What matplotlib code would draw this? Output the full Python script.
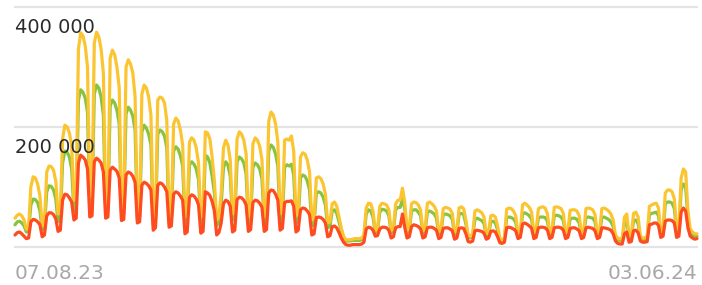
import matplotlib
matplotlib.use("Agg")
import matplotlib.pyplot as plt
import pandas as pd

# daily values, thousands, Mon 07.08.23 .. Mon 03.06.24 (one row per week)
yellow_k = [
    48, 53, 55, 52, 45, 30, 32,
    100, 117, 115, 105, 85, 35, 40,
    125, 135, 134, 128, 110, 55, 58,
    180, 203, 200, 190, 170, 78, 85,
    330, 357, 352, 335, 300, 83, 90,
    340, 358, 350, 330, 290, 70, 75,
    315, 328, 320, 300, 265, 62, 68,
    300, 312, 305, 290, 250, 57, 62,
    255, 270, 265, 250, 220, 45, 50,
    245, 250, 248, 240, 210, 48, 52,
    205, 215, 210, 195, 170, 50, 55,
    175, 182, 178, 165, 140, 50, 55,
    192, 190, 180, 150, 110, 45, 50,
    90, 165, 178, 170, 145, 55, 60,
    180, 192, 188, 178, 155, 50, 55,
    172, 182, 178, 168, 145, 50, 55,
    210, 225, 220, 205, 175, 55, 58,
    178, 180, 178, 185, 160, 52, 56,
    150, 157, 155, 145, 125, 45, 50,
    115, 117, 114, 105, 88, 40, 42,
    72, 75, 68, 50, 32, 18, 12,
    12, 12, 13, 14, 14, 14, 15,
    20, 65, 73, 72, 60, 28, 30,
    68, 73, 72, 70, 62, 28, 30,
    72, 78, 78, 98, 75, 28, 30,
    72, 75, 74, 70, 62, 27, 30,
    73, 75, 72, 68, 60, 26, 28,
    64, 66, 65, 63, 56, 25, 27,
    65, 67, 64, 45, 20, 18, 22,
    60, 62, 60, 57, 50, 22, 25,
    52, 53, 50, 35, 14, 12, 15,
    63, 65, 64, 60, 52, 22, 25,
    70, 73, 70, 66, 58, 24, 27,
    64, 66, 67, 65, 55, 24, 26,
    66, 67, 66, 64, 56, 24, 26,
    61, 62, 62, 60, 52, 23, 25,
    64, 65, 64, 62, 54, 23, 25,
    64, 65, 63, 60, 55, 45, 20,
    15, 14, 13, 50, 55, 18, 20,
    56, 58, 50, 18, 15, 15, 18,
    68, 70, 72, 73, 65, 25, 28,
    90, 95, 95, 92, 80, 30, 32,
    115, 130, 125, 60, 30, 25, 22,
    22,
]

green_k = [
    37, 42, 43, 40, 35, 25, 27,
    70, 80, 79, 74, 60, 28, 32,
    92, 102, 101, 95, 80, 42, 45,
    140, 160, 158, 150, 130, 60, 65,
    245, 262, 258, 248, 225, 65, 70,
    255, 270, 265, 250, 220, 55, 60,
    235, 245, 240, 228, 205, 50, 55,
    222, 233, 228, 218, 195, 46, 50,
    192, 203, 198, 188, 170, 38, 42,
    188, 195, 192, 185, 165, 40, 44,
    160, 167, 163, 152, 135, 40, 44,
    137, 142, 138, 130, 112, 40, 44,
    153, 150, 140, 118, 90, 36, 40,
    70, 132, 142, 136, 118, 45, 48,
    142, 150, 147, 140, 122, 40, 44,
    133, 140, 137, 130, 113, 40, 44,
    160, 170, 166, 155, 135, 42, 46,
    133, 137, 135, 138, 120, 40, 44,
    115, 120, 118, 110, 95, 35, 38,
    90, 92, 90, 83, 70, 32, 34,
    60, 62, 56, 42, 27, 14, 10,
    10, 10, 11, 11, 11, 11, 12,
    16, 55, 62, 60, 50, 24, 26,
    58, 63, 62, 60, 52, 24, 26,
    62, 66, 66, 80, 64, 24, 26,
    60, 62, 62, 58, 52, 23, 25,
    58, 60, 58, 55, 48, 22, 24,
    54, 55, 54, 52, 46, 21, 23,
    55, 56, 54, 38, 16, 15, 18,
    46, 48, 46, 44, 39, 18, 20,
    42, 43, 40, 28, 11, 10, 12,
    49, 50, 49, 47, 41, 18, 20,
    55, 57, 55, 52, 46, 20, 22,
    49, 50, 50, 49, 43, 20, 22,
    52, 53, 52, 50, 44, 20, 22,
    47, 48, 48, 46, 40, 19, 21,
    49, 50, 49, 48, 42, 19, 21,
    49, 50, 48, 46, 42, 34, 16,
    12, 11, 10, 40, 44, 15, 16,
    44, 45, 39, 14, 12, 12, 14,
    54, 56, 57, 58, 52, 20, 22,
    72, 75, 75, 73, 64, 24, 26,
    95, 105, 100, 48, 25, 20, 18,
    18,
]

red_k = [
    20, 24, 25, 22, 18, 14, 15,
    42, 46, 45, 42, 37, 17, 20,
    52, 57, 57, 54, 47, 26, 28,
    78, 88, 87, 82, 75, 45, 48,
    140, 153, 150, 145, 130, 50, 52,
    142, 148, 145, 140, 125, 48, 50,
    128, 133, 130, 126, 115, 44, 46,
    120, 125, 123, 118, 108, 40, 42,
    103, 108, 106, 102, 95, 28, 32,
    103, 107, 105, 100, 92, 33, 35,
    88, 92, 90, 85, 78, 22, 25,
    83, 87, 85, 80, 70, 23, 26,
    92, 90, 86, 76, 60, 20, 24,
    40, 72, 78, 76, 68, 25, 28,
    79, 83, 82, 78, 70, 26, 29,
    74, 78, 77, 73, 66, 26, 29,
    90, 95, 94, 88, 78, 28, 31,
    74, 76, 76, 77, 68, 25, 28,
    62, 65, 64, 60, 54, 20, 22,
    49, 50, 49, 46, 40, 17, 19,
    34, 35, 32, 24, 15, 8, 4,
    3, 3, 4, 4, 4, 4, 5,
    8, 30, 33, 32, 28, 18, 19,
    30, 33, 33, 32, 28, 15, 17,
    32, 34, 34, 55, 33, 15, 17,
    34, 37, 36, 34, 30, 15, 17,
    32, 33, 33, 31, 28, 14, 16,
    31, 32, 32, 30, 27, 13, 15,
    31, 32, 31, 22, 9, 8, 10,
    27, 28, 27, 26, 23, 13, 15,
    26, 27, 25, 17, 7, 6, 8,
    32, 33, 32, 30, 27, 14, 16,
    38, 40, 38, 35, 31, 14, 16,
    32, 33, 33, 32, 28, 14, 16,
    32, 33, 33, 32, 28, 14, 16,
    31, 32, 32, 30, 27, 14, 16,
    32, 33, 32, 31, 27, 14, 16,
    32, 32, 31, 30, 28, 22, 10,
    6, 5, 5, 22, 25, 8, 9,
    27, 28, 24, 10, 8, 8, 9,
    37, 38, 40, 40, 36, 16, 18,
    43, 45, 45, 44, 40, 16, 18,
    58, 65, 60, 32, 18, 15, 13,
    14,
]

y_ticks = [0, 200000, 400000]
y_tick_labels = ["", "200 000", "400 000"]
x_labels = ["07.08.23", "03.06.24"]

dates = pd.date_range("2023-08-07", periods=len(yellow_k), freq="D")
df = pd.DataFrame(
    {
        "yellow": [v * 1000 for v in yellow_k],
        "green": [v * 1000 for v in green_k],
        "red": [v * 1000 for v in red_k],
    },
    index=dates,
)

fig = plt.figure(figsize=(7.02, 2.85), dpi=100)
ax = fig.add_axes([15 / 702, 38 / 285, 682 / 702, 240 / 285])

for yv in y_ticks:
    ax.axhline(yv, color="#e4e4e4", linewidth=1.6, zorder=1, clip_on=False)

line_kw = dict(linewidth=2.3, solid_joinstyle="round", solid_capstyle="round",
               clip_on=False)
ax.plot(df.index, df["green"], color="#86c440", zorder=2, **line_kw)
ax.plot(df.index, df["yellow"], color="#fbc531", zorder=3, **line_kw)
ax.plot(df.index, df["red"], color="#ff4b1f", zorder=4, **line_kw)

ax.set_xlim(df.index[0], df.index[-1])
ax.set_ylim(0, 400000)
ax.axis("off")

for yv, lab in zip(y_ticks, y_tick_labels):
    if lab:
        ax.annotate(lab, xy=(df.index[0], yv), xytext=(0, -15),
                    textcoords="offset points", ha="left", va="center",
                    fontsize=14, color="#2b2b2b", zorder=6)

ax.annotate(x_labels[0], xy=(df.index[0], 0), xytext=(0, -19),
            textcoords="offset points", ha="left", va="center",
            fontsize=14.5, color="#a8a8a8")
ax.annotate(x_labels[1], xy=(df.index[-1], 0), xytext=(0, -19),
            textcoords="offset points", ha="right", va="center",
            fontsize=14.5, color="#a8a8a8")

fig.savefig("out.png", dpi=100)
plt.close(fig)
